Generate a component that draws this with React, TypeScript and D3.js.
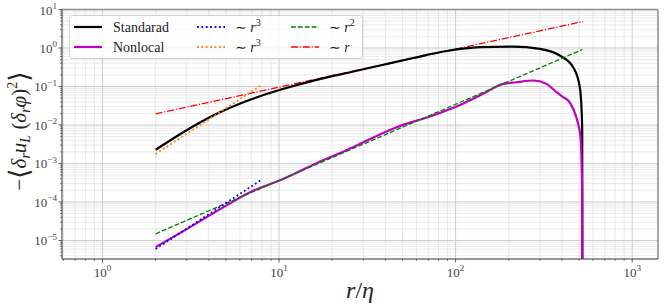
import React from 'react';
import * as d3 from 'd3';

// values (r/eta, -<...>)
const rStandard = [2, 2.87, 4.44, 6.85, 10.6, 16.3, 25.3, 37.3, 57.5, 89, 137, 212, 300, 389, 463, 505, 517, 521, 523];
const vStandard = [2.27e-3, 6.5e-3, 0.0195, 0.0452, 0.087, 0.149, 0.235, 0.351, 0.55, 0.836, 1.05, 1.09, 0.953, 0.638, 0.317, 0.096, 0.0238, 7.2e-3, 1e-9];

const rNonlocal = [2, 2.87, 4.44, 6.85, 10.6, 16.3, 25.3, 30, 46.4, 71.5, 110, 143, 186, 221, 275, 327, 373, 406, 434, 463, 494, 510, 517, 521, 523];
const vNonlocal = [6.7e-6, 1.75e-5, 5.77e-5, 1.8e-4, 4.01e-4, 1.02e-3, 2.45e-3, 3.57e-3, 8.77e-3, 0.0166, 0.0356, 0.0646, 0.117, 0.129, 0.143, 0.117, 0.0711, 0.0527, 0.0433, 0.0264, 0.0107, 4.82e-3, 1.0e-3, 1.33e-4, 1e-9];

// fitted power laws, end points
const fitBlueR = [2, 8];
const fitBlueV = [6.0e-6, 3.84e-4];
const fitOrangeR = [2, 8];
const fitOrangeV = [1.75e-3, 0.111];
const fitGreenR = [2, 523];
const fitGreenV = [1.49e-5, 0.914];
const fitRedR = [2, 527];
const fitRedV = [0.0195, 4.87];

const xMajor = [1, 10, 100, 1000];
const yMajor = [1e-5, 1e-4, 1e-3, 1e-2, 1e-1, 1, 10];

const W = 664;
const H = 308;
const left = 62, right = 658, top = 9.5, bottom = 259;
const serif = "'Liberation Serif', 'Times New Roman', Times, 'DejaVu Serif', serif";

const x = d3.scaleLog().domain([0.59, 1400]).range([left, right]);
const y = d3.scaleLog().domain([3.3e-6, 10]).range([bottom, top]);

const minorTicks = (lo: number, hi: number) => {
  const out: number[] = [];
  for (let e = Math.floor(Math.log10(lo)); e <= Math.ceil(Math.log10(hi)); e++) {
    for (let k = 2; k <= 9; k++) {
      const v = k * Math.pow(10, e);
      if (v > lo && v < hi) out.push(v);
    }
  }
  return out;
};

const line = d3.line<[number, number]>()
  .x(d => x(d[0]))
  .y(d => y(d[1]))
  .curve(d3.curveMonotoneX);

const straight = d3.line<[number, number]>()
  .x(d => x(d[0]))
  .y(d => y(d[1]));

const zip = (a: number[], b: number[]) => a.map((v, i) => [v, b[i]] as [number, number]);

const Pow = ({ base, exp, size }: { base: string; exp: string; size: number }) => (
  <>
    <tspan>{base}</tspan>
    <tspan dy={-size * 0.45} fontSize={size * 0.7}>{exp}</tspan>
  </>
);

const App: React.FC = () => {
  const xMinor = minorTicks(0.59, 1400);
  const yMinor = minorTicks(3.3e-6, 10);

  const legendRows = [
    { x0: 74, y0: 27, color: '#000', dash: undefined, w: 2.2, label: 'Standarad', math: false, exp: '' },
    { x0: 74, y0: 47, color: '#bf00bf', dash: undefined, w: 2.2, label: 'Nonlocal', math: false, exp: '' },
    { x0: 197, y0: 27, color: '#0000ff', dash: '1.8,2.6', w: 1.8, label: '', math: true, exp: '3' },
    { x0: 197, y0: 47, color: '#ff7f0e', dash: '1.8,2.6', w: 1.8, label: '', math: true, exp: '3' },
    { x0: 291, y0: 27, color: '#008000', dash: '4.8,2.1', w: 1.3, label: '', math: true, exp: '2' },
    { x0: 291, y0: 47, color: '#ff0000', dash: '7,1.8,1.2,1.8', w: 1.3, label: '', math: true, exp: '' },
  ];

  const txt = { fontFamily: serif };

  return (
    <svg width={W} height={H} style={{ position: 'absolute', left: 0, top: 0, background: '#fff', fontFamily: serif }}>
      <defs>
        <clipPath id="plot">
          <rect x={left} y={top} width={right - left} height={bottom - top} />
        </clipPath>
      </defs>

      {/* grid */}
      {yMinor.map(v => (
        <line key={'ym' + v} x1={left} x2={right} y1={y(v)} y2={y(v)} stroke="#e2e2e2" strokeWidth={0.7} />
      ))}
      {xMinor.map(v => (
        <line key={'xm' + v} x1={x(v)} x2={x(v)} y1={top} y2={bottom} stroke="#dedede" strokeWidth={0.7} />
      ))}
      {yMajor.map(v => (
        <line key={'yM' + v} x1={left} x2={right} y1={y(v)} y2={y(v)} stroke="#cccccc" strokeWidth={1} />
      ))}
      {xMajor.map(v => (
        <line key={'xM' + v} x1={x(v)} x2={x(v)} y1={top} y2={bottom} stroke="#cccccc" strokeWidth={1} />
      ))}

      {/* data */}
      <g clipPath="url(#plot)" fill="none">
        <path d={straight(zip(fitRedR, fitRedV)) || ''} stroke="#ff0000" strokeWidth={1.3} strokeDasharray="7,1.8,1.2,1.8" />
        <path d={line(zip(rStandard, vStandard)) || ''} stroke="#000" strokeWidth={2.2} />
        <path d={line(zip(rNonlocal, vNonlocal)) || ''} stroke="#bf00bf" strokeWidth={2.2} />
        <path d={straight(zip(fitGreenR, fitGreenV)) || ''} stroke="#008000" strokeWidth={1.3} strokeDasharray="4.8,2.1" />
        <path d={straight(zip(fitBlueR, fitBlueV)) || ''} stroke="#0000ff" strokeWidth={1.8} strokeDasharray="1.8,2.6" />
        <path d={straight(zip(fitOrangeR, fitOrangeV)) || ''} stroke="#ff7f0e" strokeWidth={1.8} strokeDasharray="1.8,2.6" />
      </g>

      {/* frame */}
      <line x1={left} x2={right} y1={top} y2={top} stroke="#8a8a8a" strokeWidth={1.5} />
      <line x1={right} x2={right} y1={top} y2={bottom} stroke="#8a8a8a" strokeWidth={1.5} />
      <line x1={left} x2={left} y1={top} y2={bottom} stroke="#333" strokeWidth={1} />
      <line x1={left} x2={right} y1={bottom} y2={bottom} stroke="#333" strokeWidth={1} />

      {/* ticks */}
      {yMajor.map(v => (
        <line key={'yt' + v} x1={left - 3.5} x2={left} y1={y(v)} y2={y(v)} stroke="#333" strokeWidth={0.8} />
      ))}
      {yMinor.map(v => (
        <line key={'ytm' + v} x1={left - 2} x2={left} y1={y(v)} y2={y(v)} stroke="#333" strokeWidth={0.6} />
      ))}
      {xMajor.map(v => (
        <line key={'xt' + v} x1={x(v)} x2={x(v)} y1={bottom} y2={bottom + 3.5} stroke="#333" strokeWidth={0.8} />
      ))}
      {xMinor.map(v => (
        <line key={'xtm' + v} x1={x(v)} x2={x(v)} y1={bottom} y2={bottom + 2} stroke="#333" strokeWidth={0.6} />
      ))}

      {/* tick labels */}
      {yMajor.map(v => {
        const e = Math.round(Math.log10(v));
        return (
          <text key={'yl' + v} x={left - 5} y={y(v) + 5} textAnchor="end" fontSize={13} fill="#444" style={txt}>
            <Pow base="10" exp={e < 0 ? '\u2212' + -e : String(e)} size={13} />
          </text>
        );
      })}
      {xMajor.map(v => {
        const e = Math.round(Math.log10(v));
        return (
          <text key={'xl' + v} x={x(v)} y={bottom + 18} textAnchor="middle" fontSize={13} fill="#444" style={txt}>
            <Pow base="10" exp={String(e)} size={13} />
          </text>
        );
      })}

      {/* axis labels */}
      <text x={(left + right) / 2} y={298} textAnchor="middle" fontSize={24} fontStyle="italic" fill="#222" style={txt}>
        r<tspan fontStyle="normal">/</tspan>η
      </text>
      <text transform="translate(26,131) rotate(-90)" textAnchor="middle" fontSize={21} fill="#222" style={txt}>
        <tspan>−</tspan>
        <tspan fontSize={27} dy={2}>⟨</tspan>
        <tspan fontStyle="italic" dy={-2}>δ</tspan>
        <tspan fontStyle="italic" fontSize={14} dy={4}>r</tspan>
        <tspan fontStyle="italic" dy={-4}>u</tspan>
        <tspan fontStyle="italic" fontSize={14} dy={4}>L</tspan>
        <tspan dy={-4}> (</tspan>
        <tspan fontStyle="italic">δ</tspan>
        <tspan fontStyle="italic" fontSize={14} dy={4}>r</tspan>
        <tspan fontStyle="italic" dy={-4}>φ</tspan>
        <tspan>)</tspan>
        <tspan fontSize={14} dy={-9}>2</tspan>
        <tspan fontSize={27} dy={11}>⟩</tspan>
      </text>

      {/* legend */}
      <rect x={69.5} y={15.5} width={293} height={43} rx={3} fill="#fff" fillOpacity={0.8} stroke="#d0d0d0" strokeWidth={1} />
      {legendRows.map((row, i) => (
        <g key={'lg' + i}>
          <line x1={row.x0} x2={row.x0 + 28} y1={row.y0} y2={row.y0} stroke={row.color} strokeWidth={row.w} strokeDasharray={row.dash} />
          {row.math ? (
            <text x={row.x0 + 38} y={row.y0 + 5} fontSize={14} fill="#222" style={txt}>
              <tspan>∼ </tspan>
              <tspan fontStyle="italic">r</tspan>
              {row.exp && <tspan dy={-6} fontSize={10}>{row.exp}</tspan>}
            </text>
          ) : (
            <text x={row.x0 + 39} y={row.y0 + 5} fontSize={14} fill="#222" style={txt}>{row.label}</text>
          )}
        </g>
      ))}
    </svg>
  );
};

export default App;
